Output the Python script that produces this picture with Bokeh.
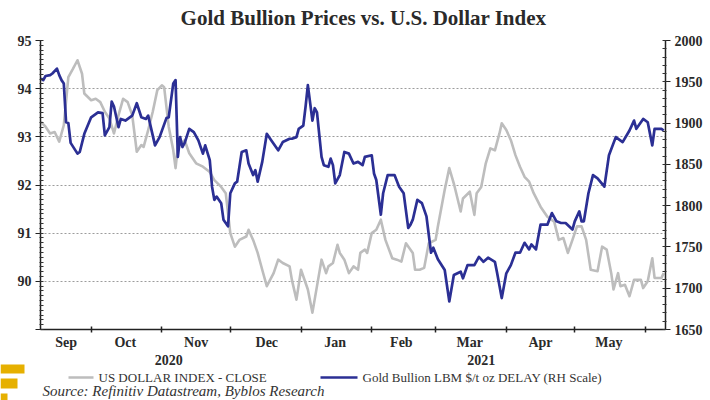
import pandas as pd
from bokeh.plotting import figure
from bokeh.layouts import column, row
from bokeh.models import Range1d, LinearAxis, FixedTicker
from bokeh.core.properties import value
from bokeh.embed import file_html
from bokeh.resources import INLINE

# ---------------- data ----------------
usd_dates = ["2020-09-09","2020-09-11","2020-09-13","2020-09-15","2020-09-17","2020-09-19","2020-09-21","2020-09-23",
             "2020-09-25","2020-09-27","2020-09-28","2020-10-01","2020-10-03","2020-10-05","2020-10-07","2020-10-09",
             "2020-10-11","2020-10-13","2020-10-15","2020-10-17","2020-10-19","2020-10-21","2020-10-23","2020-10-24",
             "2020-10-26","2020-10-28","2020-10-30","2020-11-01","2020-11-02","2020-11-04","2020-11-06","2020-11-07",
             "2020-11-08","2020-11-11","2020-11-13","2020-11-16","2020-11-19","2020-11-22","2020-11-24","2020-11-27",
             "2020-11-29","2020-12-01","2020-12-03","2020-12-05","2020-12-08","2020-12-09","2020-12-11","2020-12-13",
             "2020-12-15","2020-12-17","2020-12-20","2020-12-22","2020-12-24","2020-12-27","2020-12-28","2020-12-30",
             "2021-01-01","2021-01-04","2021-01-06","2021-01-08","2021-01-10","2021-01-12","2021-01-13","2021-01-15",
             "2021-01-17","2021-01-18","2021-01-20","2021-01-22","2021-01-24","2021-01-26","2021-01-27","2021-01-29",
             "2021-01-30","2021-02-01","2021-02-03","2021-02-05","2021-02-07","2021-02-10","2021-02-12","2021-02-14",
             "2021-02-16","2021-02-19","2021-02-20","2021-02-22","2021-02-24","2021-02-26","2021-03-01","2021-03-02",
             "2021-03-05","2021-03-07","2021-03-09","2021-03-12","2021-03-13","2021-03-16","2021-03-18","2021-03-19",
             "2021-03-21","2021-03-23","2021-03-25","2021-03-27","2021-03-29","2021-03-30","2021-04-01","2021-04-03",
             "2021-04-05","2021-04-07","2021-04-09","2021-04-11","2021-04-13","2021-04-16","2021-04-19","2021-04-22",
             "2021-04-24","2021-04-26","2021-04-28","2021-04-30","2021-05-02","2021-05-04","2021-05-06","2021-05-08",
             "2021-05-11","2021-05-13","2021-05-15","2021-05-17","2021-05-18","2021-05-20","2021-05-21","2021-05-23",
             "2021-05-25","2021-05-27","2021-05-30","2021-05-31","2021-06-02","2021-06-04","2021-06-05","2021-06-08",
             "2021-06-09"]
usd_values = [93.31,93.21,93.07,93.10,92.90,93.24,94.24,94.41,
              94.59,94.31,93.90,93.76,93.79,93.72,93.52,93.38,
              93.07,93.45,93.79,93.72,93.45,92.69,92.83,92.79,
              93.14,93.52,93.97,94.07,94.03,93.21,92.72,92.35,
              92.79,92.93,92.66,92.45,92.38,92.27,92.10,91.96,
              91.83,91.00,90.72,90.86,90.93,91.07,90.86,90.59,
              90.24,89.90,90.17,90.45,90.38,90.31,90.03,89.62,
              90.24,89.83,89.35,89.90,90.45,90.17,90.31,90.38,
              90.76,90.59,90.45,90.17,90.31,90.24,90.59,90.66,
              90.59,91.00,91.07,91.28,90.86,90.48,90.45,90.41,
              90.79,90.59,90.24,90.24,90.28,90.79,90.86,91.14,
              91.90,92.35,92.03,91.45,91.72,91.86,91.38,91.83,
              91.96,92.45,92.76,92.72,93.07,93.28,93.14,92.93,
              92.62,92.38,92.17,92.07,91.83,91.55,91.34,91.24,
              90.86,90.90,90.59,90.86,91.14,91.14,90.86,90.24,
              90.21,90.72,90.66,90.17,89.83,90.17,89.90,89.93,
              89.69,90.03,90.03,89.86,90.00,90.48,90.07,90.07,
              90.17]

gold_dates = ["2020-09-09","2020-09-10","2020-09-11","2020-09-13","2020-09-14","2020-09-16","2020-09-17","2020-09-18",
              "2020-09-19","2020-09-20","2020-09-21","2020-09-22","2020-09-25","2020-09-26","2020-09-28","2020-10-01",
              "2020-10-04","2020-10-06","2020-10-07","2020-10-09","2020-10-10","2020-10-11","2020-10-13","2020-10-14",
              "2020-10-16","2020-10-19","2020-10-21","2020-10-23","2020-10-25","2020-10-26","2020-10-29","2020-10-31",
              "2020-11-03","2020-11-04","2020-11-06","2020-11-07","2020-11-08","2020-11-09","2020-11-10","2020-11-11",
              "2020-11-13","2020-11-15","2020-11-17","2020-11-19","2020-11-20","2020-11-22","2020-11-23","2020-11-24",
              "2020-11-25","2020-11-27","2020-11-28","2020-11-30","2020-12-01","2020-12-03","2020-12-04","2020-12-06",
              "2020-12-08","2020-12-09","2020-12-11","2020-12-12","2020-12-13","2020-12-15","2020-12-17","2020-12-19",
              "2020-12-22","2020-12-24","2020-12-27","2020-12-28","2020-12-30","2020-12-31","2021-01-02","2021-01-03",
              "2021-01-04","2021-01-06","2021-01-07","2021-01-08","2021-01-10","2021-01-11","2021-01-13","2021-01-14",
              "2021-01-15","2021-01-16","2021-01-18","2021-01-20","2021-01-22","2021-01-24","2021-01-26","2021-01-28",
              "2021-01-29","2021-02-01","2021-02-02","2021-02-03","2021-02-05","2021-02-06","2021-02-08","2021-02-11",
              "2021-02-13","2021-02-15","2021-02-17","2021-02-18","2021-02-19","2021-02-21","2021-02-23","2021-02-25",
              "2021-02-27","2021-02-28","2021-03-02","2021-03-05","2021-03-07","2021-03-09","2021-03-12","2021-03-13",
              "2021-03-15","2021-03-18","2021-03-20","2021-03-22","2021-03-24","2021-03-27","2021-03-28","2021-03-30",
              "2021-04-01","2021-04-03","2021-04-05","2021-04-07","2021-04-09","2021-04-11","2021-04-12","2021-04-14",
              "2021-04-16","2021-04-19","2021-04-21","2021-04-23","2021-04-25","2021-04-27","2021-04-30","2021-05-01",
              "2021-05-03","2021-05-04","2021-05-05","2021-05-07","2021-05-09","2021-05-11","2021-05-14","2021-05-16",
              "2021-05-19","2021-05-22","2021-05-25","2021-05-27","2021-05-28","2021-05-31","2021-06-02","2021-06-04",
              "2021-06-05","2021-06-08","2021-06-09"]
gold_values = [1954,1952,1957,1958,1960,1966,1958,1952,
               1948,1901,1900,1876,1863,1865,1887,1907,
               1913,1912,1885,1895,1926,1920,1895,1905,
               1903,1909,1924,1907,1905,1909,1873,1883,
               1906,1907,1948,1952,1859,1883,1871,1876,
               1893,1889,1879,1863,1873,1855,1823,1807,
               1811,1803,1783,1775,1815,1827,1829,1865,
               1867,1851,1837,1843,1829,1853,1887,1879,
               1867,1877,1881,1881,1883,1893,1897,1920,
               1946,1903,1918,1913,1859,1849,1847,1857,
               1849,1827,1837,1865,1863,1851,1853,1849,
               1859,1861,1839,1831,1789,1815,1837,1837,
               1823,1815,1773,1777,1783,1807,1803,1787,
               1743,1749,1735,1722,1684,1716,1720,1712,
               1728,1728,1738,1732,1737,1732,1718,1688,
               1718,1728,1743,1743,1755,1747,1753,1747,
               1777,1777,1791,1781,1779,1779,1771,1781,
               1793,1781,1781,1815,1837,1833,1823,1861,
               1883,1877,1891,1903,1893,1905,1901,1873,
               1893,1893,1891]

month_labels = ["Sep", "Oct", "Nov", "Dec", "Jan", "Feb", "Mar", "Apr", "May"]
month_label_dates = ["2020-09-20","2020-10-16","2020-11-16","2020-12-17","2021-01-16",
                     "2021-02-14","2021-03-16","2021-04-16","2021-05-16"]
month_start_dates = ["2020-10-01","2020-11-01","2020-12-01","2021-01-01","2021-02-01",
                     "2021-03-01","2021-04-01","2021-05-01","2021-06-01"]
year_labels = ["2020", "2021"]
year_label_dates = ["2020-11-04", "2021-03-21"]
usd_ticks = [89, 90, 91, 92, 93, 94, 95]
gold_ticks = [1650, 1700, 1750, 1800, 1850, 1900, 1950, 2000]

title_text = "Gold Bullion Prices vs. U.S. Dollar Index"
usd_name = "US DOLLAR INDEX - CLOSE"
gold_name = "Gold Bullion LBM $/t oz DELAY (RH Scale)"
source_text = "Source: Refinitiv Datastream, Byblos Research"

# ---------------- helpers / style ----------------
EPOCH = pd.Timestamp("1970-01-01")
def ms(d):
    return float((pd.Timestamp(d) - EPOCH).total_seconds() * 1000.0)

X0 = pd.Timestamp("2020-09-08 19:00")
X1 = pd.Timestamp("2021-06-09 19:00")
W = 710
FL, FR = 40, 665            # frame left / right in page pixels
TOP_H, MAIN_H, BOT_H = 32, 320, 48
SERIF = "Liberation Serif"
TXT = "#2a2a2a"
GRAY = "#bdbdbd"
BLUE = "#2b2f94"

def date_to_px(d):
    return FL + (ms(d) - ms(X0)) / (ms(X1) - ms(X0)) * (FR - FL)

def blank_fig(h, y_top, y_bottom):
    f = figure(width=W, height=h, output_backend="svg", toolbar_location=None,
               x_range=Range1d(0, W), y_range=Range1d(y_bottom, y_top),
               min_border=0, min_border_left=0, min_border_right=0, min_border_top=0, min_border_bottom=0)
    f.axis.visible = False
    f.grid.visible = False
    f.outline_line_color = None
    f.background_fill_color = "white"
    f.border_fill_color = "white"
    return f

# ---------------- title strip ----------------
top = blank_fig(TOP_H, 0, TOP_H)
top.text(x=[363], y=[17], text=[title_text], text_align="center", text_baseline="middle",
         text_font=value(SERIF), text_font_style="bold", text_font_size="21px", text_color=TXT)

# ---------------- main chart ----------------
p = figure(width=W, height=MAIN_H, x_axis_type="datetime", output_backend="svg", toolbar_location=None,
           x_range=Range1d(ms(X0), ms(X1)), y_range=Range1d(89, 95),
           min_border_left=FL, min_border_right=W - FR, min_border_top=40 - TOP_H,
           min_border_bottom=MAIN_H - (330 - TOP_H))
p.extra_y_ranges = {"gold": Range1d(1650, 2000)}
p.outline_line_color = None
p.background_fill_color = "white"
p.border_fill_color = "white"

p.xgrid.visible = False
p.ygrid.ticker = FixedTicker(ticks=[90, 91, 92, 93, 94, 95])
p.ygrid.grid_line_color = "#9c9c9c"
p.ygrid.grid_line_dash = "2 2"
p.ygrid.grid_line_width = 1.2

def style_y(ax):
    ax.axis_line_color = "#222222"
    ax.axis_line_width = 1.5
    ax.major_tick_line_color = "#222222"
    ax.major_tick_out = 5
    ax.major_tick_in = 0
    ax.minor_tick_line_color = "#333333"
    ax.minor_tick_out = 1
    ax.minor_tick_in = 3
    ax.major_label_text_font = SERIF
    ax.major_label_text_font_style = "bold"
    ax.major_label_text_font_size = "14px"
    ax.major_label_text_color = TXT
    ax.major_label_standoff = 4

ly = p.yaxis[0]
ly.ticker = FixedTicker(ticks=usd_ticks, minor_ticks=[89 + i * 0.1 for i in range(61)])
ly.major_label_overrides = {89: ""}
style_y(ly)

ry = LinearAxis(y_range_name="gold",
                ticker=FixedTicker(ticks=gold_ticks, minor_ticks=list(range(1650, 2001, 10))))
style_y(ry)
p.add_layout(ry, "right")

bx = p.xaxis[0]
bx.ticker = FixedTicker(ticks=[ms(d) for d in month_label_dates],
                        minor_ticks=[ms(d) for d in month_start_dates])
bx.major_label_overrides = {ms(d): lab for d, lab in zip(month_label_dates, month_labels)}
bx.axis_line_color = "#222222"
bx.axis_line_width = 1.5
bx.major_tick_line_color = None
bx.major_tick_out = 2
bx.major_tick_in = 0
bx.minor_tick_line_color = "#222222"
bx.minor_tick_line_width = 1.5
bx.minor_tick_out = 3
bx.minor_tick_in = 3
bx.major_label_text_font = SERIF
bx.major_label_text_font_style = "bold"
bx.major_label_text_font_size = "14px"
bx.major_label_text_color = TXT
bx.major_label_standoff = 2

p.line([ms(d) for d in usd_dates], usd_values, line_color=GRAY, line_width=2.6, line_join="round")
p.line([ms(d) for d in gold_dates], gold_values, y_range_name="gold",
       line_color=BLUE, line_width=2.7, line_join="round")

# ---------------- bottom strip: years, legend, source ----------------
y_off = TOP_H + MAIN_H     # page y of the strip's top edge
bot = blank_fig(BOT_H, y_off, y_off + BOT_H)

bot.text(x=[date_to_px(d) for d in year_label_dates], y=[359] * len(year_labels), text=year_labels,
         text_align="center", text_baseline="middle",
         text_font=value(SERIF), text_font_style="bold", text_font_size="14px", text_color=TXT)

bot.segment(x0=[68, 320], y0=[377, 377], x1=[93, 357], y1=[377, 377],
            line_color=[GRAY, BLUE], line_width=2.6)
bot.text(x=[98, 362], y=[377, 377], text=[usd_name, gold_name], text_align="left", text_baseline="middle",
         text_font=value(SERIF), text_font_size="13px", text_color="#333333")
bot.text(x=[42], y=[390], text=[source_text], text_align="left", text_baseline="middle",
         text_font=value(SERIF), text_font_style="italic", text_font_size="15px", text_color="#333333")

# decorative yellow bars (logo) at bottom-left
bot.quad(left=[0, 0, 0], right=[24, 17, 7], top=[364, 378, 393], bottom=[373, 388, 400],
         fill_color="#e6b000", line_color=None)

layout = column(row(top), p, row(bot), spacing=0)
open("out.html", "w").write(file_html(layout, INLINE))
